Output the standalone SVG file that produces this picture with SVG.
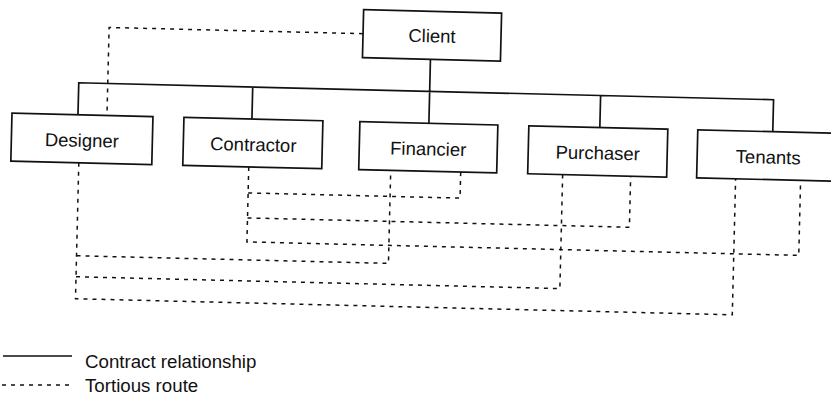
<svg xmlns="http://www.w3.org/2000/svg" width="831" height="404" viewBox="0 0 831 404">
  <defs>
    <style>
      .box { fill: #fff; stroke: #111; stroke-width: 1.7; }
      .label { font-family: "Liberation Sans", Arial, sans-serif; font-size: 18.5px; fill: #111; text-anchor: middle; }
      .legend { font-family: "Liberation Sans", Arial, sans-serif; font-size: 18.7px; fill: #111; }
      .contract { fill: none; stroke: #111; stroke-width: 1.7; }
      .tort { fill: none; stroke: #111; stroke-width: 1.5; stroke-dasharray: 4 5; }
    </style>
  </defs>
  <rect width="831" height="404" fill="#fff"/>

  <!-- the page is printed slightly askew -->
  <g transform="rotate(1.4 415 200)">
    <g id="connectors">
      <!-- contract relationships -->
      <path class="contract" d="M427,59 V123 M76,123 V91 H771 V123 M250,91 V123 M598,91 V123"/>
      <!-- tortious routes -->
      <path class="tort" d="M359,35 H105 V123"/>
      <path class="tort" d="M78,171 V307 H735 V171"/>
      <path class="tort" d="M78,264 H390 V171"/>
      <path class="tort" d="M78,285 H562 V171"/>
      <path class="tort" d="M248,171 V246 H800 V171"/>
      <path class="tort" d="M248,197 H460 V171"/>
      <path class="tort" d="M248,222 H630 V171"/>
    </g>

    <g id="client">
      <rect class="box" x="359" y="11" width="138" height="48"/>
      <text class="label" x="428" y="42">Client</text>
    </g>
    <g id="designer">
      <rect class="box" x="10" y="123" width="141" height="48"/>
      <text class="label" x="80.5" y="155">Designer</text>
    </g>
    <g id="contractor">
      <rect class="box" x="182" y="123" width="139" height="48"/>
      <text class="label" x="252" y="155">Contractor</text>
    </g>
    <g id="financier">
      <rect class="box" x="358" y="123" width="138" height="48"/>
      <text class="label" x="427" y="155">Financier</text>
    </g>
    <g id="purchaser">
      <rect class="box" x="527" y="123" width="139" height="48"/>
      <text class="label" x="596.5" y="155">Purchaser</text>
    </g>
    <g id="tenants">
      <rect class="box" x="696" y="123" width="150" height="48"/>
      <text class="label" x="767" y="155">Tenants</text>
    </g>
  </g>

  <!-- key -->
  <g id="legend">
    <line class="contract" x1="3" y1="356" x2="72" y2="356"/>
    <text class="legend" x="85" y="368">Contract relationship</text>
    <line class="tort" x1="2" y1="385" x2="72" y2="385"/>
    <text class="legend" x="85" y="392">Tortious route</text>
  </g>
</svg>
